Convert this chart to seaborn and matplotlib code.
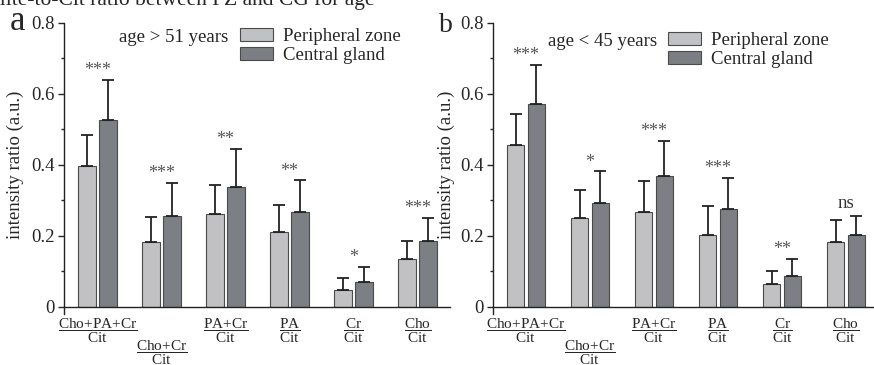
import numpy as np
import pandas as pd
import matplotlib.pyplot as plt
import seaborn as sns
from matplotlib.patches import Patch

# === DATA ===
zones = ["Peripheral zone", "Central gland"]
ratio_names = ["Cho+PA+Cr", "Cho+Cr", "PA+Cr", "PA", "Cr", "Cho"]
ratio_labels = [
    r"$\dfrac{\mathrm{Cho{+}PA{+}Cr}}{\mathrm{Cit}}$",
    r"$\dfrac{\mathrm{Cho{+}Cr}}{\mathrm{Cit}}$",
    r"$\dfrac{\mathrm{PA{+}Cr}}{\mathrm{Cit}}$",
    r"$\dfrac{\mathrm{PA}}{\mathrm{Cit}}$",
    r"$\dfrac{\mathrm{Cr}}{\mathrm{Cit}}$",
    r"$\dfrac{\mathrm{Cho}}{\mathrm{Cit}}$",
]

# age > 51 years
old_pz_mean = [0.395, 0.183, 0.260, 0.211, 0.048, 0.135]
old_pz_sd = [0.090, 0.071, 0.083, 0.075, 0.032, 0.049]
old_cg_mean = [0.526, 0.256, 0.338, 0.266, 0.070, 0.185]
old_cg_sd = [0.113, 0.092, 0.107, 0.090, 0.042, 0.066]
old_sig = ["***", "***", "**", "**", "*", "***"]

# age < 45 years
young_pz_mean = [0.456, 0.250, 0.268, 0.201, 0.063, 0.183]
young_pz_sd = [0.088, 0.079, 0.087, 0.082, 0.037, 0.062]
young_cg_mean = [0.572, 0.293, 0.367, 0.274, 0.087, 0.201]
young_cg_sd = [0.109, 0.088, 0.101, 0.088, 0.048, 0.054]
young_sig = ["***", "*", "***", "***", "**", "ns"]

yticks = [0, 0.2, 0.4, 0.6, 0.8]
ytick_labels = ["0", "0.2", "0.4", "0.6", "0.8"]

# === STYLE ===
PZ_COLOR = "#c0c1c5"
CG_COLOR = "#7b7f84"
EDGE = "#4a4a4a"
ERR = "#222222"
W, H = 874, 365

sns.set_style("ticks")
plt.rcParams["font.family"] = ["Liberation Serif", "DejaVu Serif"]
plt.rcParams["mathtext.fontset"] = "custom"
plt.rcParams["mathtext.rm"] = "Liberation Serif"
plt.rcParams["mathtext.it"] = "Liberation Serif:italic"
plt.rcParams["mathtext.bf"] = "Liberation Serif:bold"
plt.rcParams["axes.linewidth"] = 1.0
plt.rcParams["axes.edgecolor"] = "#222222"


def px_x(x):
    return x / W


def px_y(y):
    return 1 - y / H


def draw_panel(ax, pz_mean, pz_sd, cg_mean, cg_sd, sig, xlim, label_x):
    df = pd.DataFrame({
        "ratio": ratio_names * 2,
        "zone": [zones[0]] * len(ratio_names) + [zones[1]] * len(ratio_names),
        "value": pz_mean + cg_mean,
    })
    sns.barplot(data=df, x="ratio", y="value", hue="zone", order=ratio_names,
                hue_order=zones, palette=[PZ_COLOR, CG_COLOR], width=0.656,
                gap=0.146, errorbar=None, edgecolor=EDGE, linewidth=0.8,
                legend=False, ax=ax)

    # upper-only error bars on top of each bar
    bars = sorted(ax.patches, key=lambda p: p.get_x())
    xs = [p.get_x() + p.get_width() / 2 for p in bars]
    tops = [p.get_height() for p in bars]
    sds = [v for pair in zip(pz_sd, cg_sd) for v in pair]
    ax.errorbar(xs, tops, yerr=[np.zeros(len(sds)), sds], fmt="none",
                ecolor=ERR, elinewidth=1.3, capsize=4, capthick=1.3, zorder=3)

    # significance marks
    for i, s in enumerate(sig):
        top = max(pz_mean[i] + pz_sd[i], cg_mean[i] + cg_sd[i])
        if s == "ns":
            ax.annotate(s, (i, top), xytext=(0, 3), textcoords="offset points",
                        ha="center", va="bottom", fontsize=13.5, color="#333333")
        else:
            ax.annotate(s, (i, top), xytext=(0, 0.5), textcoords="offset points",
                        ha="center", va="bottom", fontsize=13, color="#555555")

    ax.set_xlim(*xlim)
    ax.set_ylim(0, 0.8)
    ax.set_yticks(yticks)
    ax.set_yticklabels(ytick_labels)
    ax.set_yticks([0.1, 0.3, 0.5, 0.7], minor=True)
    ax.tick_params(axis="y", which="major", direction="out", length=4,
                   width=1.0, labelsize=13.5, pad=3)
    ax.tick_params(axis="y", which="minor", direction="out", length=2.5, width=1.0)
    ax.set_xticks(range(len(ratio_names)))
    ax.set_xticklabels(ratio_labels)
    ax.tick_params(axis="x", length=0, labelsize=11, pad=6.5)
    ax.xaxis.get_major_ticks()[1].set_pad(23)
    ax.set_xlabel("")
    ax.set_ylabel("intensity ratio (a.u.)", fontsize=13.5)
    ax.yaxis.set_label_coords(label_x, 0.5)
    sns.despine(ax=ax)
    ax.spines["left"].set_bounds(-0.02, 0.8)
    ax.spines["left"].set_clip_on(False)


fig = plt.figure(figsize=(W / 100, H / 100), dpi=100)

ax_a = fig.add_axes([px_x(64), px_y(306.7), px_x(450 - 64), (306.7 - 22.7) / H])
draw_panel(ax_a, old_pz_mean, old_pz_sd, old_cg_mean, old_cg_sd, old_sig,
           (-0.523, 5.508), -0.104)

ax_b = fig.add_axes([px_x(493.3), px_y(306.7), px_x(W - 493.3), (306.7 - 22.7) / H])
draw_panel(ax_b, young_pz_mean, young_pz_sd, young_cg_mean, young_cg_sd, young_sig,
           (-0.511, 5.4375), -0.101)

# legends
handles = [Patch(facecolor=PZ_COLOR, edgecolor=EDGE, linewidth=0.8),
           Patch(facecolor=CG_COLOR, edgecolor=EDGE, linewidth=0.8)]
for ax, lx, ly, txt, tx, ty in [(ax_a, 240, 28, "age > 51 years", 119, 37),
                                 (ax_b, 668, 32, "age < 45 years", 548, 41)]:
    ax.legend(handles, zones, loc="upper left",
              bbox_to_anchor=(px_x(lx), px_y(ly)), bbox_transform=fig.transFigure,
              frameon=False, fontsize=13.5, handlelength=1.75, handleheight=0.7,
              handletextpad=0.55, labelspacing=0.1, borderpad=0, borderaxespad=0)
    fig.text(px_x(tx), px_y(ty), txt, fontsize=13.5, ha="left", va="center")

# panel letters and cut-off title
fig.text(px_x(10), px_y(30), "a", fontsize=25, va="baseline")
fig.text(px_x(439), px_y(32), "b", fontsize=20, va="baseline")
fig.text(px_x(375), px_y(5), "Metabolite-to-Cit ratio between PZ and CG for age",
         fontsize=15.5, ha="right", va="baseline")

fig.savefig("out.png", dpi=100)
plt.close(fig)
